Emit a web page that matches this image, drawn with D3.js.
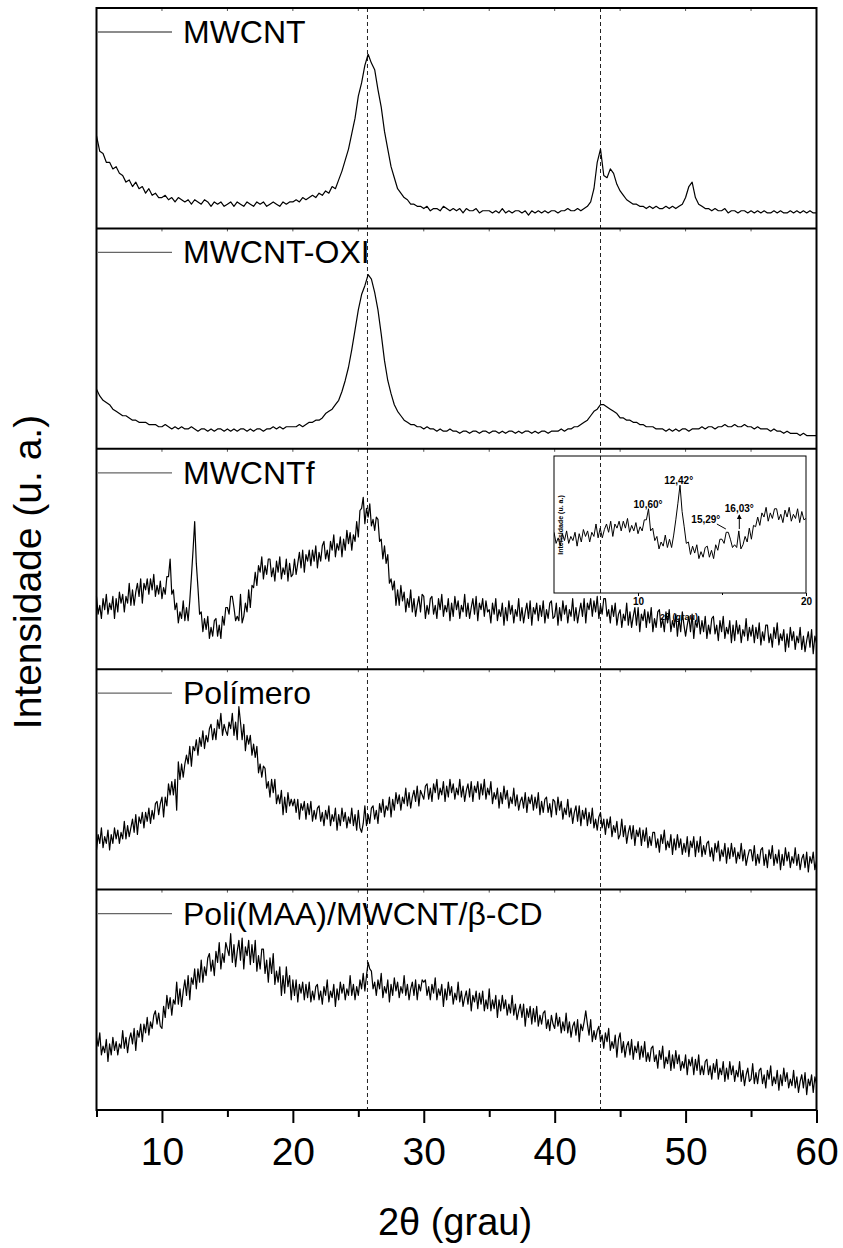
<!DOCTYPE html>
<html>
<head>
<meta charset="utf-8">
<style>
  body { margin: 0; background: #fff; }
  text { font-family: "Liberation Sans", Arial, sans-serif; fill: #000; }
</style>
</head>
<body>
<svg width="843" height="1248"></svg>

<script src="https://d3js.org/d3.v7.min.js"></script>

<script>
    // 2theta grid: first angle (deg) and sampling step of each series
    var angleStart = 5;
    var stepSmooth = 0.25,
        stepNoisy = 0.125;

    // intensities, 0-100 within each panel, one row = 5 deg
    var mwcnt = [
        42, 35, 34, 30, 30, 27, 28, 25, 24, 21, 22, 19, 21, 18, 19, 16, 18, 15, 16, 14, // 5
        14, 15, 13, 14, 12, 14, 13, 12, 13, 11, 13, 12, 11, 13, 12, 10, 12, 11, 12, 10, // 10
        11, 12, 10, 12, 11, 10, 12, 11, 10, 12, 11, 12, 10, 11, 12, 11, 10, 12, 11, 12, // 15
        12, 13, 12, 14, 13, 14, 15, 14, 16, 15, 17, 16, 19, 18, 22, 26, 31, 36, 43, 50, // 20
        60, 66, 74, 79, 75, 72, 63, 55, 44, 36, 28, 23, 18, 16, 14, 13, 11, 11, 10, 10, // 25
        9, 10, 8, 9, 9, 8, 10, 9, 8, 9, 8, 9, 7, 9, 8, 8, 9, 7, 8, 8, // 30
        8, 7, 8, 7, 9, 7, 8, 7, 8, 8, 7, 8, 6, 8, 7, 8, 7, 8, 7, 8, // 35
        8, 7, 8, 8, 9, 8, 8, 9, 8, 9, 10, 12, 18, 30, 36, 24, 23, 27, 25, 20, // 40
        17, 15, 13, 12, 11, 11, 10, 10, 9, 10, 9, 10, 9, 9, 10, 9, 10, 9, 10, 11, // 45
        14, 19, 21, 14, 11, 10, 9, 9, 8, 9, 8, 8, 9, 7, 8, 8, 7, 8, 8, 7, // 50
        8, 7, 8, 7, 8, 7, 7, 8, 7, 8, 7, 7, 8, 7, 8, 7, 8, 7, 8, 7, // 55
        7
    ];

    var mwcntOxi = [
        27, 24, 22, 21, 20, 18, 17, 16, 15, 15, 14, 13, 13, 12, 12, 12, 11, 11, 11, 10,
        10, 11, 10, 9, 10, 9, 10, 9, 9, 10, 9, 8, 9, 9, 8, 9, 8, 9, 9, 8,
        9, 8, 9, 8, 9, 9, 8, 9, 8, 9, 9, 8, 9, 9, 10, 9, 10, 9, 10, 10,
        10, 10, 11, 10, 11, 12, 12, 13, 13, 14, 16, 17, 18, 20, 22, 26, 31, 37, 45, 54,
        63, 70, 74, 79, 77, 71, 63, 52, 40, 31, 25, 20, 17, 15, 13, 12, 11, 11, 10, 10,
        9, 10, 9, 9, 8, 9, 8, 8, 9, 8, 8, 7, 8, 8, 7, 8, 8, 7, 8, 8,
        7, 8, 8, 7, 8, 7, 8, 8, 7, 8, 7, 8, 8, 7, 8, 7, 8, 8, 7, 8,
        8, 8, 9, 8, 9, 9, 10, 10, 11, 12, 13, 15, 17, 18, 20, 20, 19, 18, 17, 16,
        14, 14, 13, 13, 12, 12, 11, 11, 10, 10, 10, 9, 9, 9, 8, 9, 8, 9, 8, 9,
        9, 8, 9, 9, 9, 10, 9, 10, 10, 9, 10, 10, 11, 10, 10, 11, 10, 10, 11, 10,
        10, 9, 10, 9, 9, 9, 8, 9, 8, 8, 7, 8, 7, 7, 7, 6, 7, 6, 6, 6,
        6
    ];

    // finer sampling for the noisy patterns (one row = 5 deg, 40 points)
    var mwcntF = [
        33, 25, 29, 23, 32, 27, 34, 25, 30, 27, 33, 23, 32, 26, 35, 30, 34, 26, 33, 30,
        39, 29, 36, 29, 35, 39, 33, 41, 30, 39, 36, 41, 34, 41, 36, 43, 33, 38, 34, 40, // 5
        32, 37, 34, 42, 42, 50, 34, 36, 27, 30, 21, 26, 23, 31, 22, 28, 22, 31, 42, 54,
        67, 48, 37, 25, 26, 17, 23, 18, 24, 14, 19, 15, 22, 23, 15, 20, 14, 24, 20, 28, // 10
        28, 25, 33, 33, 28, 22, 24, 22, 34, 21, 24, 30, 26, 36, 28, 38, 37, 44, 38, 47,
        44, 51, 41, 47, 43, 50, 50, 42, 46, 40, 49, 44, 51, 41, 46, 43, 50, 40, 48, 42, // 15
        43, 50, 43, 48, 53, 46, 54, 44, 52, 49, 54, 47, 54, 49, 56, 46, 53, 49, 56, 58,
        50, 54, 49, 58, 54, 61, 51, 57, 54, 60, 51, 59, 54, 63, 57, 62, 54, 61, 58, 67, // 20
        60, 72, 73, 78, 66, 73, 69, 75, 65, 68, 63, 69, 68, 58, 59, 50, 56, 48, 52, 39,
        41, 36, 40, 29, 36, 29, 38, 31, 35, 26, 32, 28, 36, 26, 32, 24, 29, 33, 26, 34, // 25
        33, 23, 29, 25, 32, 33, 25, 29, 23, 32, 27, 34, 24, 29, 26, 32, 22, 30, 24, 33,
        27, 31, 23, 29, 26, 34, 24, 30, 23, 28, 32, 25, 33, 22, 30, 27, 32, 24, 31, 26, // 30
        27, 21, 30, 25, 32, 22, 27, 24, 30, 20, 28, 22, 31, 25, 29, 21, 27, 24, 32, 22,
        28, 21, 26, 30, 23, 31, 20, 28, 25, 30, 22, 29, 24, 31, 21, 27, 23, 30, 31, 23, // 35
        24, 30, 20, 28, 22, 31, 25, 29, 21, 27, 24, 32, 22, 28, 21, 26, 30, 24, 32, 21,
        30, 27, 32, 24, 31, 26, 33, 23, 29, 25, 32, 32, 24, 27, 21, 29, 24, 30, 20, 25, // 40
        27, 19, 25, 22, 30, 20, 26, 19, 24, 28, 20, 28, 17, 25, 22, 27, 19, 26, 21, 28,
        17, 23, 19, 26, 27, 19, 23, 17, 26, 21, 27, 17, 22, 19, 25, 15, 23, 17, 26, 20, // 45
        15, 20, 24, 17, 25, 14, 22, 19, 24, 16, 22, 17, 24, 14, 20, 16, 23, 24, 16, 20,
        13, 22, 17, 24, 14, 19, 16, 22, 12, 20, 13, 22, 16, 20, 12, 18, 15, 23, 13, 19, // 50
        15, 20, 12, 19, 14, 21, 11, 17, 13, 20, 20, 12, 16, 10, 19, 14, 21, 11, 16, 13,
        18, 8, 16, 10, 19, 13, 17, 9, 15, 12, 19, 9, 15, 8, 13, 17, 10, 18, 7, 15, // 55
        12
    ];

    var polimero = [
        18, 25, 21, 28, 19, 24, 21, 27, 18, 25, 21, 28, 23, 27, 21, 26, 23, 31, 23, 29,
        24, 28, 32, 26, 34, 25, 33, 30, 35, 28, 35, 31, 37, 30, 36, 32, 39, 40, 34, 39, // 5
        42, 33, 42, 38, 48, 43, 49, 43, 50, 36, 58, 50, 57, 51, 57, 61, 57, 65, 56, 65,
        63, 68, 61, 69, 65, 72, 64, 70, 67, 73, 75, 68, 73, 68, 77, 73, 80, 70, 75, 72, // 10
        70, 76, 73, 80, 70, 76, 68, 83, 76, 68, 75, 63, 70, 66, 70, 61, 66, 60, 65, 53,
        57, 51, 56, 55, 46, 49, 42, 50, 44, 50, 39, 43, 39, 45, 34, 42, 35, 44, 38, 41, // 15
        38, 41, 35, 41, 32, 39, 36, 40, 32, 39, 34, 40, 31, 36, 32, 37, 38, 31, 35, 29,
        36, 32, 38, 29, 34, 31, 37, 27, 34, 29, 37, 31, 35, 28, 33, 30, 37, 29, 34, 27, // 20
        36, 28, 26, 30, 38, 29, 34, 30, 37, 38, 32, 36, 30, 39, 35, 41, 33, 38, 36, 42,
        33, 41, 36, 44, 39, 43, 36, 42, 39, 46, 38, 44, 37, 42, 45, 40, 47, 38, 45, 43, // 25
        41, 47, 48, 41, 46, 40, 48, 44, 50, 41, 46, 43, 49, 40, 47, 42, 50, 44, 48, 41,
        46, 43, 50, 42, 47, 40, 45, 48, 42, 49, 40, 47, 44, 49, 41, 48, 43, 50, 41, 46, // 30
        43, 49, 39, 44, 41, 46, 37, 44, 39, 47, 41, 45, 37, 42, 39, 46, 38, 43, 36, 40,
        42, 37, 44, 35, 42, 39, 43, 36, 42, 37, 44, 34, 40, 35, 41, 42, 35, 39, 33, 41, // 35
        40, 34, 42, 36, 40, 32, 37, 34, 41, 33, 37, 30, 35, 38, 31, 38, 29, 36, 32, 37,
        29, 35, 30, 37, 28, 32, 27, 33, 35, 28, 32, 25, 32, 28, 33, 24, 29, 26, 31, 23, // 40
        25, 32, 24, 29, 21, 26, 29, 23, 29, 20, 27, 24, 28, 20, 27, 22, 28, 19, 24, 20,
        26, 26, 19, 23, 17, 25, 21, 27, 18, 22, 19, 25, 16, 23, 18, 25, 19, 23, 16, 21, // 45
        17, 24, 15, 22, 19, 24, 15, 22, 17, 24, 15, 20, 16, 21, 22, 15, 19, 13, 21, 17,
        22, 13, 18, 15, 21, 12, 19, 14, 21, 15, 19, 12, 17, 14, 21, 13, 18, 11, 15, 18, // 50
        18, 13, 20, 11, 16, 12, 18, 19, 11, 16, 10, 18, 14, 20, 11, 16, 12, 18, 9, 16,
        11, 19, 13, 17, 10, 15, 12, 19, 11, 16, 9, 14, 16, 10, 17, 8, 15, 12, 17, 9, // 55
        13
    ];

    var poliMaa = [
        33, 29, 35, 25, 29, 26, 32, 22, 30, 25, 33, 27, 31, 25, 30, 28, 36, 28, 33, 26,
        32, 35, 30, 37, 27, 36, 33, 39, 31, 39, 35, 42, 34, 40, 37, 43, 45, 39, 44, 38, // 5
        37, 47, 42, 52, 46, 51, 43, 50, 48, 58, 48, 55, 47, 54, 59, 52, 61, 50, 60, 57,
        64, 55, 64, 58, 68, 58, 65, 61, 69, 71, 63, 68, 61, 72, 67, 76, 64, 71, 67, 76, // 10
        73, 70, 80, 67, 75, 65, 72, 77, 68, 78, 64, 74, 70, 77, 66, 75, 67, 77, 63, 70,
        64, 73, 73, 62, 68, 58, 69, 62, 71, 57, 63, 58, 65, 52, 61, 53, 65, 56, 61, 50, // 15
        59, 52, 59, 49, 57, 53, 58, 50, 57, 51, 58, 49, 54, 50, 56, 57, 50, 54, 48, 56,
        52, 59, 49, 54, 51, 57, 47, 55, 50, 58, 53, 57, 50, 55, 52, 61, 52, 57, 50, 56, // 20
        52, 59, 55, 62, 54, 61, 67, 64, 63, 55, 58, 52, 59, 55, 62, 51, 56, 53, 59, 49,
        57, 52, 60, 54, 58, 51, 56, 53, 61, 52, 57, 50, 55, 58, 52, 59, 50, 57, 54, 59, // 25
        58, 59, 52, 56, 50, 57, 53, 60, 50, 55, 52, 57, 47, 55, 50, 58, 52, 56, 48, 53,
        50, 58, 49, 54, 47, 51, 54, 48, 55, 45, 52, 49, 54, 46, 53, 48, 54, 45, 50, 46, // 30
        55, 45, 50, 46, 52, 42, 50, 45, 52, 46, 50, 43, 48, 44, 52, 43, 48, 41, 45, 48,
        42, 48, 38, 46, 42, 47, 39, 46, 40, 47, 38, 43, 39, 44, 45, 37, 41, 36, 43, 39, // 35
        37, 44, 38, 42, 35, 40, 36, 44, 35, 40, 33, 38, 40, 34, 41, 31, 39, 36, 40, 45,
        39, 34, 41, 31, 36, 32, 36, 38, 31, 34, 28, 35, 31, 37, 27, 31, 28, 34, 24, 32, // 40
        35, 26, 31, 24, 29, 31, 25, 32, 23, 29, 26, 31, 23, 29, 24, 31, 22, 26, 22, 28,
        29, 22, 25, 19, 27, 23, 29, 19, 24, 21, 27, 18, 25, 19, 27, 21, 25, 18, 22, 19, // 45
        25, 16, 23, 20, 24, 16, 23, 18, 25, 16, 20, 16, 22, 23, 16, 20, 14, 21, 17, 23,
        14, 19, 16, 22, 13, 19, 14, 22, 16, 20, 13, 18, 15, 22, 13, 18, 11, 16, 19, 13, // 50
        14, 21, 12, 17, 12, 18, 19, 12, 16, 10, 18, 14, 20, 11, 15, 12, 18, 9, 16, 11,
        19, 13, 17, 10, 14, 11, 18, 10, 15, 8, 13, 16, 10, 17, 7, 14, 11, 16, 8, 15, // 55
        12
    ];

    var seriesNames = ["MWCNT", "MWCNT-OXI", "MWCNTf", "Polímero", "Poli(MAA)/MWCNT/β-CD"];
    var majorTicks = [10, 20, 30, 40, 50, 60];
    var minorTicks = [5, 15, 25, 35, 45, 55];
    var refAngles = [25.7, 43.5];

    // inset (zoom of MWCNTf, 5-20 deg)
    var insetTicks = [10, 20];
    var insetMinor = [15];
    var insetPeaks = ["10,60°", "12,42°", "15,29°", "16,03°"];
    var insetPeakAngles = [10.6, 12.42, 15.29, 16.03];
</script>

<script>
    function makeChart() {

        var series = [
            { vals: mwcnt, step: stepSmooth },
            { vals: mwcntOxi, step: stepSmooth },
            { vals: mwcntF, step: stepNoisy },
            { vals: polimero, step: stepNoisy },
            { vals: poliMaa, step: stepNoisy }
        ];

        var svg = d3.select("svg");
        var defs = svg.append("defs");

        var frame = { left: 96.5, right: 816.5, top: 8, bottom: 1110 };
        var panelH = (frame.bottom - frame.top) / series.length;

        var x = d3.scaleLinear().domain([5, 60]).range([frame.left, frame.right]);

        var line = d3.line()
            .x(function(d) { return x(d.a); })
            .y(function(d) { return d.y; });

        // dashed reference lines behind everything
        svg.selectAll(".ref")
            .data(refAngles)
            .enter().append("line")
            .attr("class", "ref")
            .attr("x1", function(d) { return x(d); })
            .attr("x2", function(d) { return x(d); })
            .attr("y1", frame.top)
            .attr("y2", frame.bottom)
            .attr("stroke", "#222")
            .attr("stroke-width", 1)
            .attr("stroke-dasharray", "4,3");

        series.forEach(function(s, i) {
            var top = frame.top + i * panelH;
            var y = d3.scaleLinear().domain([0, 100]).range([top + panelH, top]);

            var pts = s.vals.map(function(v, k) {
                return { a: angleStart + k * s.step, y: y(v) };
            });

            svg.append("path")
                .attr("d", line(pts))
                .attr("fill", "none")
                .attr("stroke", "#000")
                .attr("stroke-width", 1.2)
                .attr("stroke-linejoin", "round");

            // small ticks along the top of each panel
            svg.append("g")
                .selectAll("line")
                .data(majorTicks.concat(minorTicks))
                .enter().append("line")
                .attr("x1", function(d) { return x(d); })
                .attr("x2", function(d) { return x(d); })
                .attr("y1", top)
                .attr("y2", top + 3)
                .attr("stroke", "#555")
                .attr("stroke-width", 1);

            // legend
            svg.append("line")
                .attr("x1", 98).attr("x2", 172)
                .attr("y1", top + 24).attr("y2", top + 24)
                .attr("stroke", "#666")
                .attr("stroke-width", 1.3);
            svg.append("text")
                .attr("x", 183)
                .attr("y", top + 35)
                .style("font-size", "32px")
                .text(seriesNames[i]);

            if (i > 0) {
                svg.append("line")
                    .attr("x1", frame.left).attr("x2", frame.right)
                    .attr("y1", top).attr("y2", top)
                    .attr("stroke", "#000")
                    .attr("stroke-width", 2);
            }
        });

        svg.append("rect")
            .attr("x", frame.left)
            .attr("y", frame.top)
            .attr("width", frame.right - frame.left)
            .attr("height", frame.bottom - frame.top)
            .attr("fill", "none")
            .attr("stroke", "#000")
            .attr("stroke-width", 2);

        // bottom axis
        var axisG = svg.append("g")
            .attr("transform", "translate(0," + frame.bottom + ")");

        axisG.append("g")
            .call(d3.axisBottom(x).tickValues(minorTicks).tickSize(7).tickFormat(""))
            .call(function(g) { g.select(".domain").remove(); });

        axisG.append("g")
            .call(d3.axisBottom(x).tickValues(majorTicks).tickSize(13).tickPadding(14).tickFormat(d3.format("d")))
            .call(function(g) { g.select(".domain").remove(); })
            .selectAll("text")
            .style("font-size", "39px")
            .attr("font-family", null);

        axisG.selectAll(".tick line").attr("stroke-width", 2);

        svg.append("text")
            .attr("x", 455)
            .attr("y", 1235)
            .attr("text-anchor", "middle")
            .style("font-size", "38px")
            .text("2θ (grau)");

        svg.append("text")
            .attr("transform", "translate(41,572) rotate(-90)")
            .attr("text-anchor", "middle")
            .style("font-size", "39px")
            .text("Intensidade (u. a.)");

        // ---- inset ----
        var inset = { left: 554, right: 806, top: 456, bottom: 593 };
        var ix = d3.scaleLinear().domain([5, 20]).range([inset.left, inset.right]);
        var iy = d3.scaleLinear().domain([0, 100]).range([578, 439.5]);

        defs.append("clipPath")
            .attr("id", "insetClip")
            .append("rect")
            .attr("x", inset.left).attr("y", inset.top)
            .attr("width", inset.right - inset.left)
            .attr("height", inset.bottom - inset.top);

        var insetPts = mwcntF
            .map(function(v, k) { return { a: angleStart + k * stepNoisy, v: v }; })
            .filter(function(d) { return d.a <= 20; });

        svg.append("path")
            .attr("clip-path", "url(#insetClip)")
            .attr("d", d3.line().x(function(d) { return ix(d.a); }).y(function(d) { return iy(d.v); })(insetPts))
            .attr("fill", "none")
            .attr("stroke", "#000")
            .attr("stroke-width", 1);

        svg.append("rect")
            .attr("x", inset.left).attr("y", inset.top)
            .attr("width", inset.right - inset.left)
            .attr("height", inset.bottom - inset.top)
            .attr("fill", "none")
            .attr("stroke", "#000")
            .attr("stroke-width", 1);

        var insetAxis = svg.append("g")
            .attr("transform", "translate(0," + inset.bottom + ")");
        insetAxis.append("g")
            .call(d3.axisBottom(ix).tickValues(insetMinor).tickSize(2).tickFormat(""))
            .call(function(g) { g.select(".domain").remove(); });
        insetAxis.append("g")
            .call(d3.axisBottom(ix).tickValues(insetTicks).tickSize(3).tickPadding(2).tickFormat(d3.format("d")))
            .call(function(g) { g.select(".domain").remove(); })
            .selectAll("text")
            .attr("font-family", null)
            .style("font-size", "10px")
            .style("font-weight", "bold");

        svg.append("text")
            .attr("x", 679).attr("y", 620)
            .attr("text-anchor", "middle")
            .style("font-size", "9px")
            .style("font-weight", "bold")
            .text("2θ (grau)");

        svg.append("text")
            .attr("transform", "translate(563,525) rotate(-90)")
            .attr("text-anchor", "middle")
            .style("font-size", "7px")
            .style("font-weight", "bold")
            .text("Intensidade (u. a.)");

        defs.append("marker")
            .attr("id", "arrow")
            .attr("viewBox", "0 0 6 6")
            .attr("refX", 5).attr("refY", 3)
            .attr("markerWidth", 5).attr("markerHeight", 5)
            .attr("orient", "auto")
            .append("path")
            .attr("d", "M0,0L6,3L0,6Z")
            .attr("fill", "#000");

        // peak labels: first two sit on top of their peaks, the others use arrows
        var labelPos = [
            { dx: 0, y: 508 },
            { dx: 0, y: 484 },
            { dx: -21, y: 523 },
            { dx: 0, y: 512 }
        ];
        insetPeaks.forEach(function(lbl, k) {
            svg.append("text")
                .attr("x", ix(insetPeakAngles[k]) + labelPos[k].dx)
                .attr("y", labelPos[k].y)
                .attr("text-anchor", "middle")
                .style("font-size", "10px")
                .style("font-weight", "bold")
                .text(lbl);
        });

        svg.append("line")
            .attr("x1", ix(15.29) - 10).attr("y1", 524)
            .attr("x2", ix(15.29) - 1).attr("y2", 529)
            .attr("stroke", "#000").attr("stroke-width", 1);

        svg.append("line")
            .attr("x1", ix(16.03)).attr("y1", 529)
            .attr("x2", ix(16.03)).attr("y2", 515)
            .attr("stroke", "#000").attr("stroke-width", 1)
            .attr("marker-end", "url(#arrow)");
    }

    makeChart();
</script>
</body>
</html>
